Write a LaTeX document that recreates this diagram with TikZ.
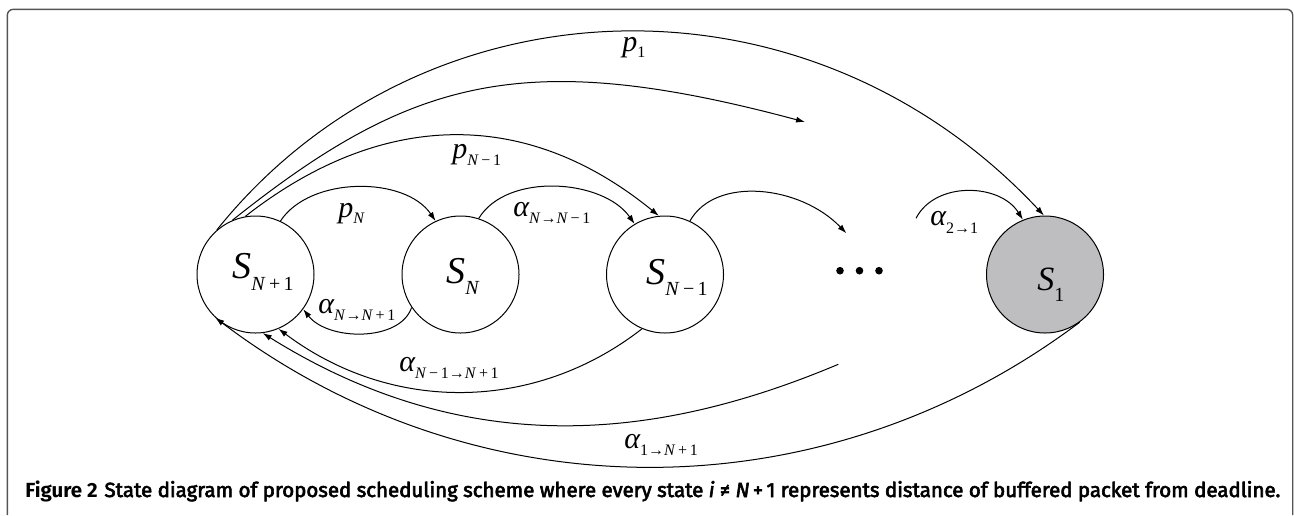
\documentclass[tikz,border=0pt]{standalone}
\usepackage{fontspec}
\usepackage{graphicx}
\usetikzlibrary{arrows.meta}
\newfontfamily\capfont{Fira Sans}
\newfontfamily\capmed{Fira Sans}[FakeBold=3]
\newfontfamily\tms{Liberation Serif}
\definecolor{sonegray}{RGB}{190,190,193}
\definecolor{framecol}{RGB}{85,85,85}
\newcommand\lbl[5]{{\tms\fontsize{#3}{#3}\selectfont\itshape #1}\raisebox{-#5}{\tms\fontsize{#4}{#4}\selectfont #2}}
\newcommand\I[1]{\textit{#1}}
\tikzset{
  state/.style={circle, draw, line width=0.5pt, minimum size=58.5pt, inner sep=0pt},
  arc/.style={draw, line width=0.5pt, -{Latex[length=4.5pt,width=3pt]}},
  lab/.style={inner sep=0pt, anchor=base west},
}
\begin{document}
\begin{tikzpicture}[x=0.5pt,y=-0.5pt]
\useasboundingbox (0,0) rectangle (1294,515);
% frame
\draw[framecol, line width=0.7pt, rounded corners=3pt] (7.3,515) -- (7.3,9.3) -- (1292.7,9.3) -- (1292.7,515);
% states
\node[state] (SN1) at (255.5,274.5) {};
\node[state] (SN)  at (460.5,274.5) {};
\node[state] (SNm) at (665,274.5) {};
\node[state, fill=sonegray] (S1) at (1045,274.5) {};
% state labels
\node[lab] (tSN1) at (232,278.3) {\lbl{S}{\I{N}\,+\,1}{19}{10}{5.9pt}};
\node[lab] (tSN)  at (446,283) {\lbl{S}{\I{N}}{19}{10}{5.9pt}};
\node[lab] (tSNm) at (646,284) {\lbl{S}{\I{N}\,−\,1}{19}{10}{5.9pt}};
\node[lab] (tS1)  at (1037,290) {\lbl{S}{1}{17}{10}{5.9pt}};
% dots
\fill (840,270.7) circle[radius=1.9pt];
\fill (859.5,270.7) circle[radius=1.9pt];
\fill (879,270.7) circle[radius=1.9pt];
% free ends
\coordinate (cA) at (805,122);
\coordinate (cB) at (846.4,233.3);
\coordinate (cC) at (916,218.3);
\coordinate (cD) at (838.3,364.3);
% upper arcs
\draw[arc] (SN1.65) .. controls (310,176) and (405,176) .. (SN.115.5);
\draw[arc] (SN.72) .. controls (507,172) and (603,179) .. (SNm.121);
\draw[arc] (SN1.100) .. controls (375,114.7) and (520,102.5) .. (SNm.96.5);
\draw[arc] (SN1.113) .. controls (412,77) and (525,46.9) .. (cA);
\draw[arc] (SN1.131) .. controls (421.3,-24.8) and (806.6,-38.7) .. (S1.91.6);
\draw[arc] (SNm.65) .. controls (715,176) and (800,185) .. (cB);
\draw[arc] (cC) .. controls (935,181) and (1000,183) .. (S1.112.5);
% lower arcs
\draw[arc] (SN.214) .. controls (400,342) and (328,341) .. (SN1.324.3);
\draw[arc] (SNm.247) .. controls (535.4,412) and (391.7,413.8) .. (SN1.293);
\draw[arc] (cD) .. controls (668.6,435.7) and (475.3,465.8) .. (SN1.277.6);
\draw[arc] (S1.306.6) .. controls (820.3,517.3) and (474.7,514) .. (SN1.227.2);
% edge labels
\node[lab] (lpN)  at (338,217) {\lbl{p}{\I{N}}{15}{8}{3.4pt}};
\node[lab] (lpNm) at (452,158.7) {\lbl{p}{\I{N}\,−\,1}{15}{8}{3.4pt}};
\node[lab] (lp1)  at (622,51) {\lbl{p}{1}{15}{8}{3.4pt}};
\node[lab] (laNN1) at (318,313) {\lbl{α}{\I{N}→\I{N}\,+\,1}{15}{8}{3.8pt}};
\node[lab] (laNNm) at (513,216.7) {\lbl{α}{\I{N}→\I{N}\,−\,1}{15}{8}{3.2pt}};
\node[lab] (laNmN1) at (399,371.7) {\lbl{α}{\I{N}\,−\,1→\I{N}\,+\,1}{15}{8}{3.4pt}};
\node[lab] (la21) at (930,225) {\lbl{α}{2→1}{15}{8}{4pt}};
\node[lab] (la1N1) at (624,448.3) {\lbl{α}{1→\I{N}\,+\,1}{15}{8}{3.8pt}};
% caption
\node[anchor=base west, inner sep=0pt] (cap) at (25,497) {\resizebox{627.5pt}{!}{{\capfont\bfseries Figure 2} {\capmed State diagram of proposed scheduling scheme where every state \textit{i} ≠ \textit{N}\,+\,1 represents distance of buffered packet from deadline.}}};
\end{tikzpicture}
\end{document}
